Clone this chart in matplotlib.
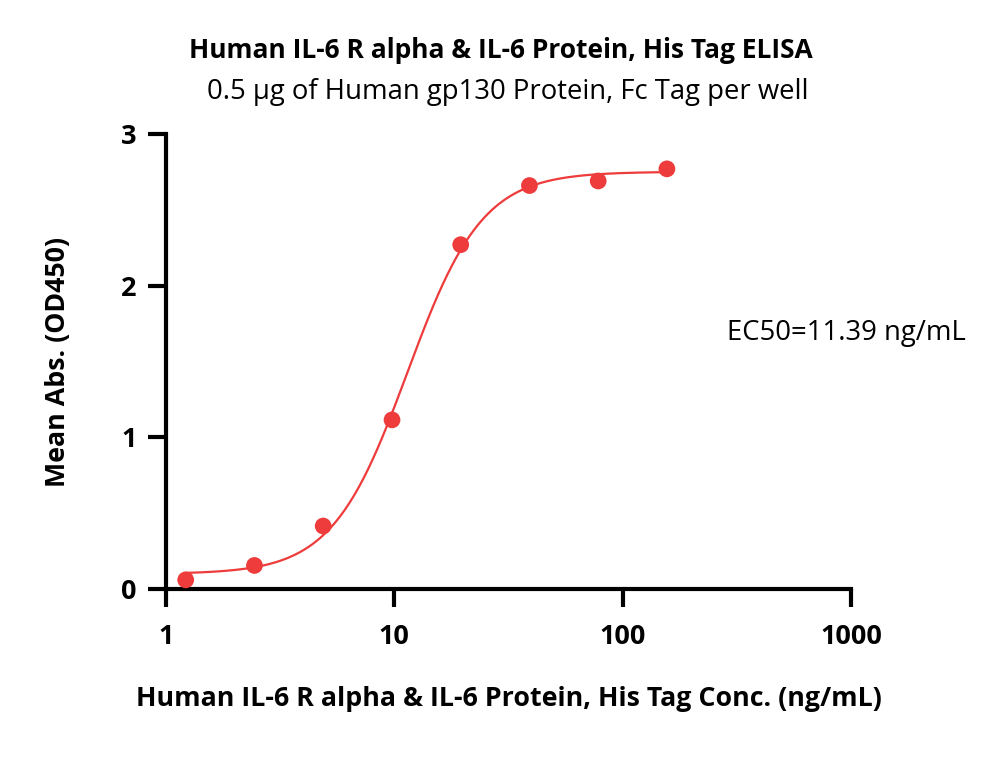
import numpy as np
import matplotlib
matplotlib.use("Agg")
import matplotlib.pyplot as plt

# Data
conc = [1.22, 2.44, 4.88, 9.77, 19.53, 39.06, 78.13, 156.25]
od450 = [0.06, 0.155, 0.415, 1.115, 2.27, 2.66, 2.69, 2.77]
ec50 = 11.39
title = "Human IL-6 R alpha & IL-6 Protein, His Tag ELISA"
subtitle = "0.5 \u00b5g of Human gp130 Protein, Fc Tag per well"
xlabel = "Human IL-6 R alpha & IL-6 Protein, His Tag Conc. (ng/mL)"
ylabel = "Mean Abs. (OD450)"
ec50_label = "EC50=11.39 ng/mL"

red = "#EE3B3B"
plt.rcParams['font.family'] = ['Open Sans', 'DejaVu Sans']

# 4PL fit with fixed EC50 (grid over hill slope, linear solve for bottom/top)
x = np.array(conc); y = np.array(od450)
best = None
for h in np.linspace(0.5, 4, 351):
    g = 1.0 / (1.0 + (ec50 / x) ** h)
    A = np.column_stack([1 - g, g])
    coef, *_ = np.linalg.lstsq(A, y, rcond=None)
    r = np.sum((A @ coef - y) ** 2)
    if best is None or r < best[0]:
        best = (r, h, coef)
_, hill, (bottom, top) = best
xc = np.logspace(np.log10(conc[0]), np.log10(conc[-1]), 400)
yc = bottom + (top - bottom) / (1 + (ec50 / xc) ** hill)

fig = plt.figure(figsize=(10, 7.83), dpi=100)
ax = fig.add_axes([0.166, 0.2478, 0.685, 0.5811])
ax.plot(xc, yc, color=red, lw=1.6, zorder=2)
ax.scatter(conc, od450, s=145, color=red, zorder=3, edgecolors='none')
ax.set_xscale('log')
ax.set_xlim(1, 1000)
ax.set_ylim(0, 3)
ax.set_xticks([1, 10, 100, 1000])
ax.set_xticklabels(['1', '10', '100', '1000'])
ax.xaxis.set_minor_locator(matplotlib.ticker.NullLocator())
ax.set_yticks([0, 1, 2, 3])
for s in ['top', 'right']:
    ax.spines[s].set_visible(False)
for s in ['left', 'bottom']:
    ax.spines[s].set_linewidth(3)
ax.tick_params(axis='both', direction='out', length=13, width=3, labelsize=19.5, pad=8)
ax.tick_params(axis='x', pad=12)
for lab in ax.get_xticklabels() + ax.get_yticklabels():
    lab.set_fontweight('bold')
ax.set_xlabel(xlabel, fontsize=19.3, fontweight='bold', labelpad=26)
ax.set_ylabel(ylabel, fontsize=19.3, fontweight='bold', labelpad=36)
fig.text(0.501, 0.935, title, ha='center', va='center', fontsize=19, fontweight='bold')
fig.text(0.508, 0.882, subtitle, ha='center', va='center', fontsize=19.8)
fig.text(0.846, 0.575, ec50_label, ha='center', va='center', fontsize=19.8)
fig.savefig("out.png", dpi=100)
